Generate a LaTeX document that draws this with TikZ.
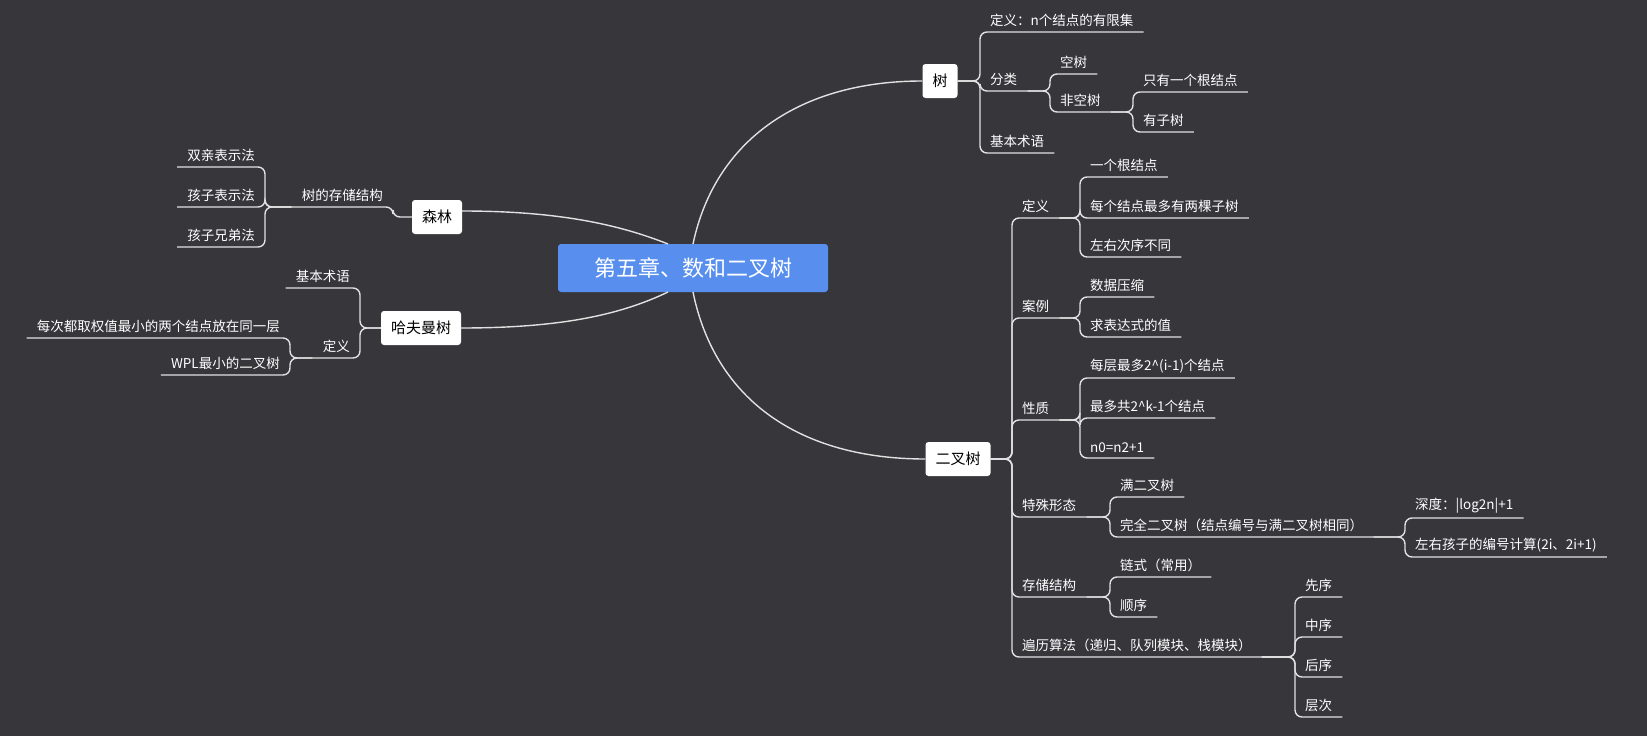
\documentclass[tikz,border=0pt]{standalone}
\usepackage{fontspec}
\setmainfont{Noto Sans CJK SC}
\definecolor{bgdark}{RGB}{54,54,59}
\definecolor{linegray}{RGB}{225,225,225}
\definecolor{mainblue}{RGB}{88,143,238}
\tikzset{
  link/.style={draw=linegray, line width=1.4pt, rounded corners=7pt},
  topic/.style={text=white, inner xsep=10pt, inner ysep=5pt, font=\fontsize{13.5}{15}\selectfont},
  rtopic/.style={topic, anchor=south west},
  ltopic/.style={topic, anchor=south east},
  mainbox/.style={fill=white, rounded corners=3pt, text=black, inner xsep=10pt, minimum height=34pt, font=\fontsize{15}{17}\selectfont},
}
\newcommand\rconn[2]{\draw[link] (#1) -| (#2.south west) -- (#2.south east);}
\newcommand\lconn[2]{\draw[link] (#1) -| (#2.south east) -- (#2.south west);}
\begin{document}
\begin{tikzpicture}[x=1pt,y=-1pt]
  \fill[bgdark] (0,0) rectangle (1647,736);
  \useasboundingbox (0,0) rectangle (1647,736);

  % central topic
  \node[fill=mainblue, rounded corners=3pt, text=white, minimum width=270pt, minimum height=48pt,
        font=\fontsize{22}{24}\selectfont] (root) at (693,268) {第五章、数和二叉树};

  % main branches
  \node[mainbox] (shu) at (940,81) {树};
  \node[mainbox] (ercha) at (958,459) {二叉树};
  \node[mainbox] (senlin) at (437,217) {森林};
  \node[mainbox] (hafu) at (421,328) {哈夫曼树};

  \draw[link] (693,244) .. controls (715,140) and (800,81) .. (shu.west);
  \draw[link] (693,292) .. controls (715,400) and (800,459) .. (ercha.west);
  \draw[link] (668,244) .. controls (620,225) and (560,211) .. (senlin.east |- 0,211);
  \draw[link] (668,292) .. controls (620,315) and (560,328) .. (hafu.east);

  % 树
  \node[rtopic] (shuDef) at (980,32) {定义：n个结点的有限集};
  \node[rtopic] (shuFen) at (980,91) {分类};
  \node[rtopic] (shuShu) at (980,153) {基本术语};
  \node[rtopic] (kong) at (1050,74) {空树};
  \node[rtopic] (feikong) at (1050,112) {非空树};
  \node[rtopic] (genjd) at (1133,92) {只有一个根结点};
  \node[rtopic] (zishu) at (1133,132) {有子树};
  \foreach \c in {shuDef,shuFen,shuShu} {\rconn{shu.east}{\c}}
  \foreach \c in {kong,feikong} {\rconn{shuFen.south east}{\c}}
  \foreach \c in {genjd,zishu} {\rconn{feikong.south east}{\c}}

  % 二叉树
  \node[rtopic] (bDef) at (1012,218) {定义};
  \node[rtopic] (bCase) at (1012,318) {案例};
  \node[rtopic] (bProp) at (1012,420) {性质};
  \node[rtopic] (bForm) at (1012,517) {特殊形态};
  \node[rtopic] (bStore) at (1012,597) {存储结构};
  \node[rtopic] (bTrav) at (1012,657) {遍历算法（递归、队列模块、栈模块）};
  \foreach \c in {bDef,bCase,bProp,bForm,bStore,bTrav} {\rconn{ercha.east}{\c}}

  \node[rtopic] (d1) at (1080,177) {一个根结点};
  \node[rtopic] (d2) at (1080,218) {每个结点最多有两棵子树};
  \node[rtopic] (d3) at (1080,257) {左右次序不同};
  \foreach \c in {d1,d2,d3} {\rconn{bDef.south east}{\c}}

  \node[rtopic] (c1) at (1080,297) {数据压缩};
  \node[rtopic] (c2) at (1080,337) {求表达式的值};
  \foreach \c in {c1,c2} {\rconn{bCase.south east}{\c}}

  \node[rtopic] (p1) at (1080,378) {每层最多2\^{}(i-1)个结点};
  \node[rtopic] (p2) at (1080,418) {最多共2\^{}k-1个结点};
  \node[rtopic] (p3) at (1080,458) {n0=n2+1};
  \foreach \c in {p1,p2,p3} {\rconn{bProp.south east}{\c}}

  \node[rtopic] (f1) at (1110,497) {满二叉树};
  \node[rtopic] (f2) at (1110,537) {完全二叉树（结点编号与满二叉树相同）};
  \foreach \c in {f1,f2} {\rconn{bForm.south east}{\c}}
  \node[rtopic] (g1) at (1405,518) {深度：|log2n|+1};
  \node[rtopic] (g2) at (1405,557) {左右孩子的编号计算(2i、2i+1)};
  \foreach \c in {g1,g2} {\rconn{f2.south east}{\c}}

  \node[rtopic] (s1) at (1110,577) {链式（常用）};
  \node[rtopic] (s2) at (1110,617) {顺序};
  \foreach \c in {s1,s2} {\rconn{bStore.south east}{\c}}

  \node[rtopic] (t1) at (1295,597) {先序};
  \node[rtopic] (t2) at (1295,637) {中序};
  \node[rtopic] (t3) at (1295,677) {后序};
  \node[rtopic] (t4) at (1295,717) {层次};
  \foreach \c in {t1,t2,t3,t4} {\rconn{bTrav.south east}{\c}}

  % 森林
  \node[ltopic] (cunchu) at (393,207) {树的存储结构};
  \lconn{senlin.west}{cunchu}
  \node[ltopic] (l1) at (265,167) {双亲表示法};
  \node[ltopic] (l2) at (265,207) {孩子表示法};
  \node[ltopic] (l3) at (265,247) {孩子兄弟法};
  \foreach \c in {l1,l2,l3} {\lconn{cunchu.south west}{\c}}

  % 哈夫曼树
  \node[ltopic] (hShu) at (360,288) {基本术语};
  \node[ltopic] (hDef) at (360,358) {定义};
  \foreach \c in {hShu,hDef} {\lconn{hafu.west}{\c}}
  \node[ltopic] (h1) at (290,338) {每次都取权值最小的两个结点放在同一层};
  \node[ltopic] (h2) at (290,375) {WPL最小的二叉树};
  \foreach \c in {h1,h2} {\lconn{hDef.south west}{\c}}
\end{tikzpicture}
\end{document}
